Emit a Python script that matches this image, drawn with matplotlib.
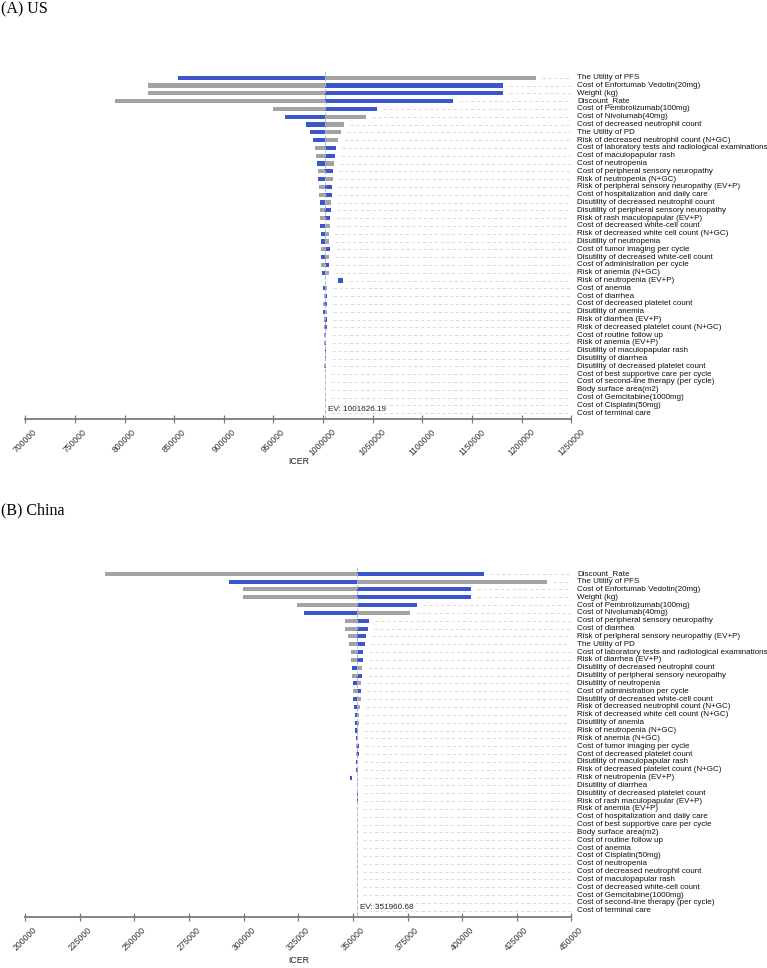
import numpy as np
import matplotlib
matplotlib.use("Agg")
import matplotlib.pyplot as plt
from matplotlib.transforms import blended_transform_factory

# ---------------- data ----------------
us_ev = 1001626.19
us_params = [
    "The Utility of PFS", "Cost of Enfortumab Vedotin(20mg)", "Weight (kg)",
    "Discount_Rate", "Cost of Pembrolizumab(100mg)", "Cost of Nivolumab(40mg)",
    "Cost of decreased neutrophil count", "The Utility of PD",
    "Risk of decreased neutrophil count (N+GC)",
    "Cost of laboratory tests and radiological examinations",
    "Cost of maculopapular rash", "Cost of neutropenia",
    "Cost of peripheral sensory neuropathy", "Risk of neutropenia (N+GC)",
    "Risk of peripheral sensory neuropathy (EV+P)",
    "Cost of hospitalization and daily care",
    "Disutility of decreased neutrophil count",
    "Disutility of peripheral sensory neuropathy",
    "Risk of rash maculopapular (EV+P)", "Cost of decreased white-cell count",
    "Risk of decreased white cell count (N+GC)", "Disutility of neutropenia",
    "Cost of tumor imaging per cycle", "Disutility of decreased white-cell count",
    "Cost of administration per cycle", "Risk of anemia (N+GC)",
    "Risk of neutropenia (EV+P)", "Cost of anemia", "Cost of diarrhea",
    "Cost of decreased platelet count", "Disutility of anemia",
    "Risk of diarrhea (EV+P)", "Risk of decreased platelet count (N+GC)",
    "Cost of routine follow up", "Risk of anemia (EV+P)",
    "Disutility of maculopapular rash", "Disutility of diarrhea",
    "Disutility of decreased platelet count",
    "Cost of best supportive care per cycle",
    "Cost of second-line therapy (per cycle)", "Body surface area(m2)",
    "Cost of Gemcitabine(1000mg)", "Cost of Cisplatin(50mg)",
    "Cost of terminal care",
]
us_low = [
    853500, 823700, 823700, 790500, 949200, 961700, 983200, 987200, 989900,
    991600, 993000, 993600, 994600, 994600, 995600, 995600, 997000, 997000,
    997300, 997300, 998000, 998000, 998000, 998000, 998300, 998600, 1015100,
    999600, 1000600, 1000300, 1000300, 1001300, 1000900, 1001300, 1001300,
    1001600, 1001600, 1001300, 1001600, 1001600, 1001600, 1001600, 1001600,
    1001600,
]
us_high = [
    1214500, 1180900, 1180900, 1130600, 1054700, 1042900, 1021200, 1018100,
    1015100, 1013100, 1011700, 1011100, 1009700, 1009700, 1009400, 1009400,
    1007700, 1008100, 1007100, 1006700, 1006400, 1006400, 1006700, 1006100,
    1006400, 1005700, 1019800, 1004000, 1004000, 1004000, 1004000, 1004000,
    1003600, 1003300, 1002900, 1002900, 1002900, 1002600, 1002300, 1002100,
    1002000, 1001900, 1001800, 1001700,
]
# True -> the part left of EV comes from the upper input value (blue)
us_left_upper = [
    True, False, False, False, False, True, True, True, True, False, False,
    True, False, True, False, False, True, False, False, True, True, True,
    False, True, False, True, False, True, False, False, True, False, False,
    False, False, False, False, False, False, False, False, False, False,
    False,
]
us_ticks = list(range(700000, 1250001, 50000))

cn_ev = 351960.68
cn_params = [
    "Discount_Rate", "The Utility of PFS", "Cost of Enfortumab Vedotin(20mg)",
    "Weight (kg)", "Cost of Pembrolizumab(100mg)", "Cost of Nivolumab(40mg)",
    "Cost of peripheral sensory neuropathy", "Cost of diarrhea",
    "Risk of peripheral sensory neuropathy (EV+P)", "The Utility of PD",
    "Cost of laboratory tests and radiological examinations",
    "Risk of diarrhea (EV+P)", "Disutility of decreased neutrophil count",
    "Disutility of peripheral sensory neuropathy", "Disutility of neutropenia",
    "Cost of administration per cycle", "Disutility of decreased white-cell count",
    "Risk of decreased neutrophil count (N+GC)",
    "Risk of decreased white cell count (N+GC)", "Disutility of anemia",
    "Risk of neutropenia (N+GC)", "Risk of anemia (N+GC)",
    "Cost of tumor imaging per cycle", "Cost of decreased platelet count",
    "Disutility of maculopapular rash", "Risk of decreased platelet count (N+GC)",
    "Risk of neutropenia (EV+P)", "Disutility of diarrhea",
    "Disutility of decreased platelet count", "Risk of rash maculopapular (EV+P)",
    "Risk of anemia (EV+P)", "Cost of hospitalization and daily care",
    "Cost of best supportive care per cycle", "Body surface area(m2)",
    "Cost of routine follow up", "Cost of anemia", "Cost of Cisplatin(50mg)",
    "Cost of neutropenia", "Cost of decreased neutrophil count",
    "Cost of maculopapular rash", "Cost of decreased white-cell count",
    "Cost of Gemcitabine(1000mg)", "Cost of second-line therapy (per cycle)",
    "Cost of terminal care",
]
cn_low = [
    236700, 293400, 299700, 299700, 324500, 327400, 346200, 346600, 347700,
    348200, 349100, 349100, 349400, 349700, 350100, 350100, 350100, 350600,
    350900, 351000, 351000, 351200, 351500, 351600, 351600, 351600, 348800,
    351700, 351800, 351850, 351880, 351900, 351910, 351920, 351930, 351935,
    351940, 351940, 351945, 351945, 351950, 351950, 351955, 351955,
]
cn_high = [
    409900, 439100, 404100, 404100, 379500, 376200, 357600, 357100, 355900,
    355600, 354600, 354600, 354200, 354200, 353700, 353500, 353700, 353300,
    352700, 352600, 352400, 352400, 352900, 352600, 352400, 352400, 349700,
    352400, 352300, 352150, 352100, 352050, 352040, 352030, 352020, 352010,
    352000, 352000, 351990, 351990, 351980, 351980, 351970, 351970,
]
cn_left_upper = [
    False, True, False, False, False, True, False, False, False, False, False,
    False, True, False, True, False, True, True, True, True, True, True,
    False, False, True, True, True, False, False, False, False, False, False,
    False, False, False, False, False, False, False, False, False, False,
    False,
]
cn_ticks = list(range(200000, 450001, 25000))

BLUE = "#3b55cc"
GREY = "#a3a3a3"
W, H = 767, 968


def draw_tornado(fig, top_px, axis_px, row0_px, step_px, params, low, high,
                 left_upper, ev, ticks, title, title_px):
    x0_px, x1_px = 25.3, 571.3
    ax = fig.add_axes([x0_px / W, 1 - axis_px / H,
                       (x1_px - x0_px) / W, (axis_px - top_px) / H])
    xmin, xmax = ticks[0], ticks[-1]
    upp = (xmax - xmin) / (x1_px - x0_px)  # data units per pixel
    n = len(params)
    y = np.arange(n)

    lo = np.asarray(low, dtype=float)
    hi = np.asarray(high, dtype=float)
    mid = np.clip(ev, lo, hi)
    lcol = [BLUE if u else GREY for u in left_upper]
    rcol = [GREY if u else BLUE for u in left_upper]
    ax.barh(y, mid - lo, left=lo, height=0.52, color=lcol, linewidth=0)
    ax.barh(y, hi - mid, left=mid, height=0.52, color=rcol, linewidth=0)

    # dashed guides from bar end to the right edge
    for i in range(n):
        start = max(hi[i], ev) + 6 * upp
        ax.plot([start, xmax], [i, i], color="#d6d6d6", lw=0.6,
                ls=(0, (4, 3)), zorder=0)

    ax.plot([ev, ev], [-0.8, n - 0.3], color="#a9b3df", lw=0.7,
            ls=(0, (4, 2)), zorder=1)

    ax.text(ev + 3 * upp, n - 1.4, f"EV: {ev:.2f}", fontsize=5.9,
            color="#222222", va="center", ha="left")

    trans = blended_transform_factory(ax.transAxes, ax.transData)
    for i, p in enumerate(params):
        ax.text(1 + 6 / (x1_px - x0_px), i, p, transform=trans, fontsize=5.75,
                va="center", ha="left", color="#111111", clip_on=False)

    ax.set_xlim(xmin, xmax)
    ax.set_ylim((axis_px - row0_px) / step_px, (top_px - row0_px) / step_px)
    ax.set_xticks(ticks)
    ax.set_xticklabels([str(t) for t in ticks], rotation=45, fontsize=6.2,
                       color="#333333")
    ax.tick_params(axis="x", direction="inout", length=6, width=0.9,
                   color="#7a7a7a", pad=3)
    ax.set_yticks([])
    for s in ("top", "right", "left"):
        ax.spines[s].set_visible(False)
    ax.spines["bottom"].set_color("#7a7a7a")
    ax.spines["bottom"].set_linewidth(1.3)
    ax.patch.set_alpha(0)

    fig.text((x0_px + x1_px) / 2 / W, 1 - (axis_px + 43) / H, "ICER",
             fontsize=6.3, ha="center", va="center", color="#222222")
    fig.text(1 / W, 1 - title_px / H, title, fontsize=11.5,
             family="Liberation Serif", ha="left", va="center")
    return ax


plt.rcParams["font.family"] = ["Liberation Sans", "DejaVu Sans"]
fig = plt.figure(figsize=(W / 100, H / 100), dpi=100)

draw_tornado(fig, 70, 419, 77.7, 7.8, us_params, us_low, us_high,
             us_left_upper, us_ev, us_ticks, "(A) US", 9)
draw_tornado(fig, 566, 917.3, 573.7, 7.84, cn_params, cn_low, cn_high,
             cn_left_upper, cn_ev, cn_ticks, "(B) China", 510)

fig.savefig("out.png", dpi=100)
